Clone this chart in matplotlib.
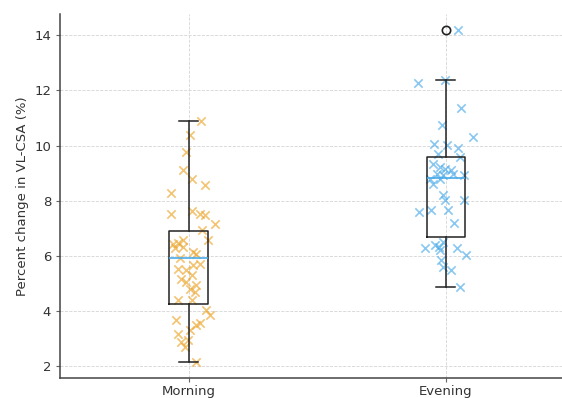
import matplotlib
matplotlib.use("Agg")
import matplotlib.pyplot as plt

# --- data ------------------------------------------------------------------
groups = ["Morning", "Evening"]

morning_vals = [10.89, 10.37, 9.76, 9.10, 8.80, 8.56, 8.28, 7.53, 7.62, 7.53,
                7.47, 7.14, 6.95, 6.57, 6.44, 6.47, 6.57, 6.32, 6.27, 6.15,
                6.06, 5.91, 5.72, 5.66, 5.54, 5.48, 5.30, 5.18, 5.06, 4.93,
                4.81, 4.69, 4.41, 4.39, 4.05, 3.85, 3.67, 3.55, 3.49, 3.30,
                3.18, 2.88, 2.70, 2.94, 2.16]
morning_jitter = [0.049, 0.004, -0.009, -0.022, 0.013, 0.062, -0.070, -0.067, 0.011, 0.043,
                  0.062, 0.101, 0.053, 0.075, -0.061, -0.042, -0.022, -0.022, -0.054, 0.017,
                  0.030, -0.035, 0.043, 0.017, -0.042, -0.009, 0.011, -0.028, -0.009, 0.030,
                  0.004, 0.023, -0.042, 0.011, 0.069, 0.082, -0.048, 0.043, 0.030, 0.004,
                  -0.042, -0.028, -0.016, -0.003, 0.027]

evening_vals = [14.17, 12.28, 12.36, 11.37, 10.73, 10.31, 10.04, 10.01, 9.92, 9.70,
                9.58, 9.32, 9.22, 9.16, 9.10, 8.98, 8.92, 8.80, 8.77, 8.98,
                8.92, 8.62, 8.20, 8.01, 8.01, 7.59, 7.68, 7.65, 7.20, 6.29,
                6.38, 6.32, 6.51, 6.20, 6.29, 6.02, 5.84, 5.59, 5.48, 4.87]
evening_jitter = [0.048, -0.108, -0.004, 0.058, -0.013, 0.106, -0.046, 0.003, 0.048, -0.030,
                  0.054, -0.049, -0.023, -0.004, 0.022, -0.036, -0.011, -0.062, -0.023, 0.028,
                  0.070, -0.049, -0.011, -0.004, 0.070, -0.104, -0.056, 0.009, 0.032, -0.082,
                  -0.043, -0.026, -0.011, -0.023, 0.042, 0.078, -0.017, -0.011, 0.022, 0.054]

# box summary as drawn in the reference
box_q1 = [4.25, 6.67]
box_med = [5.91, 8.81]
box_q3 = [6.89, 9.57]
box_lo = [2.16, 4.87]
box_hi = [10.89, 12.36]
box_fliers = [[], [14.17]]

COLORS = ["#EBA52A", "#4AAAE8"]

fig = plt.figure(figsize=(5.62, 3.98), dpi=100)
ax = fig.add_axes([0.107, 0.05, 0.915, 0.915])

for i, (vals, jit) in enumerate([(morning_vals, morning_jitter),
                                 (evening_vals, evening_jitter)]):
    xs = [i + 1 + j for j in jit]
    ax.scatter(xs, vals, marker="x", s=36, color=COLORS[i], alpha=0.65,
               linewidths=1.2, zorder=2)

stats = [dict(label=g, q1=box_q1[k], med=box_med[k], q3=box_q3[k],
              whislo=box_lo[k], whishi=box_hi[k], fliers=box_fliers[k])
         for k, g in enumerate(groups)]
ax.bxp(stats, positions=[1, 2], widths=0.15, showfliers=True,
       boxprops=dict(color="#222222", linewidth=1.1),
       whiskerprops=dict(color="#222222", linewidth=1.1),
       capprops=dict(color="#222222", linewidth=1.1),
       medianprops=dict(color="#4AAAE8", linewidth=1.2),
       flierprops=dict(marker="o", markerfacecolor="none",
                       markeredgecolor="#222222", markersize=6, markeredgewidth=1.2),
       zorder=3)

ax.set_xlim(0.5, 2.5)
ax.set_ylim(1.57, 14.77)
ax.set_xticks([1, 2])
ax.set_xticklabels(groups)
ax.set_yticks([2, 4, 6, 8, 10, 12, 14])
ax.set_ylabel("Percent change in VL-CSA (%)", fontsize=9.5, color="#333333")
ax.grid(True, linestyle="--", linewidth=0.6, color="#d5d5d5")
ax.set_axisbelow(True)
for side in ("top", "right"):
    ax.spines[side].set_visible(False)
for side in ("left", "bottom"):
    ax.spines[side].set_color("#444444")
    ax.spines[side].set_linewidth(1.1)
ax.tick_params(labelsize=9.5, labelcolor="#333333", color="#666666", length=3)
ax.tick_params(axis="x", pad=2)

fig.savefig("out.png", dpi=100)
